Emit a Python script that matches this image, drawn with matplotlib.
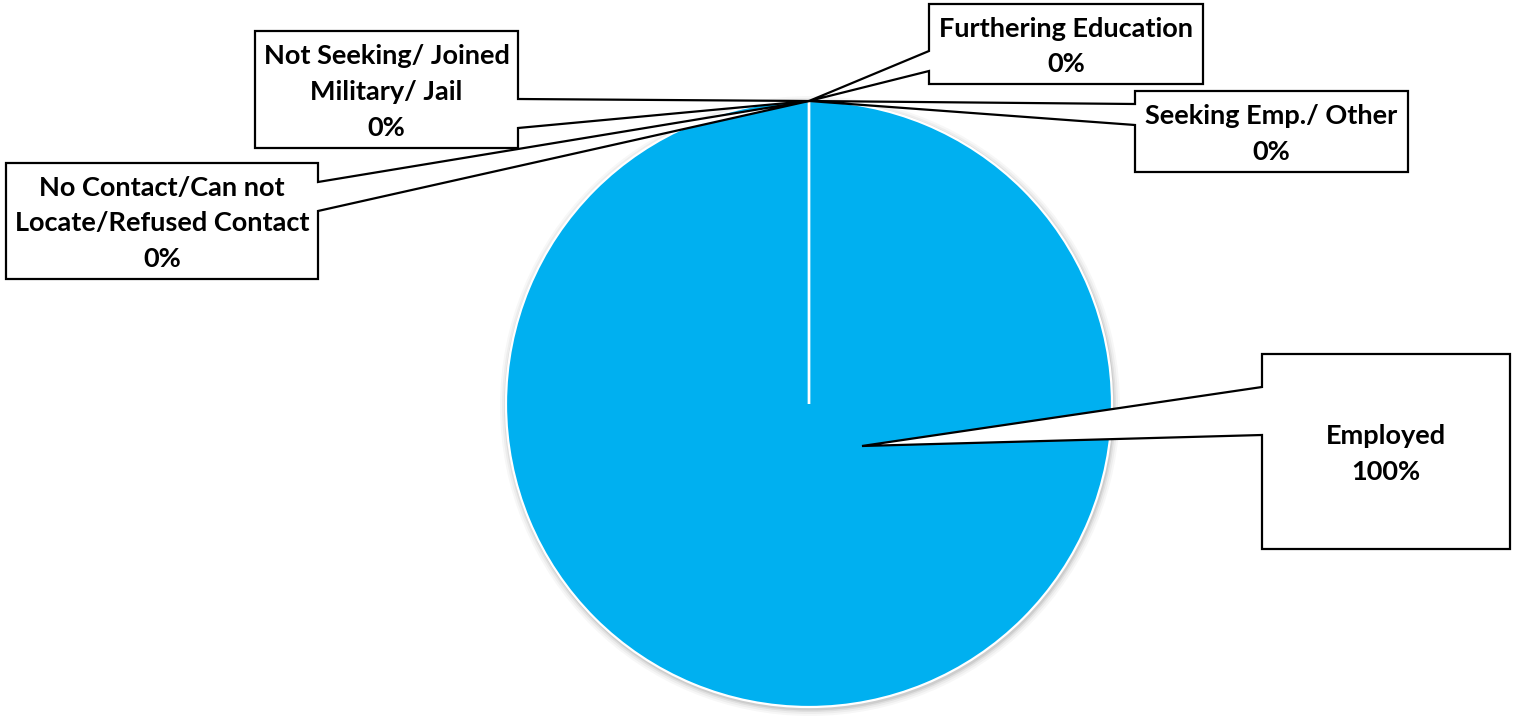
#!/usr/bin/env python3
"""Pie chart of placement outcomes with Excel-style callout labels."""

import math

import matplotlib

matplotlib.use("Agg")
import matplotlib.pyplot as plt
from matplotlib.patches import Circle, Polygon

W, H = 1521, 719

categories = [
    "Employed",
    "Furthering Education",
    "Seeking Emp./ Other",
    "No Contact/Can not\nLocate/Refused Contact",
    "Not Seeking/ Joined\nMilitary/ Jail",
]
values = [100, 0, 0, 0, 0]

# layout in image pixels (origin top-left)
PIE_CENTER = (809, 404)
PIE_RADIUS = 303
FULL_ANCHOR = (53, 42)  # offset of the 100% slice's label anchor from centre
# left, top, right, bottom, side of the leader, leader base (y1, y2)
callouts = [
    (1262, 354, 1510, 549, "left", (387, 435)),
    (929, 4, 1203, 84, "left", (51, 71)),
    (1135, 91, 1408, 172, "left", (104, 125)),
    (6, 163, 318, 279, "right", (182, 211)),
    (255, 31, 518, 148, "right", (99, 128)),
]

BLUE = "#00B0F0"


def Y(y):
    return H - y


def callout_points(box, anchor):
    l, t, r, b, side, (ya, yb) = box
    ax_, ay = anchor
    if side == "right":
        pts = [(l, t), (r, t), (r, ya), (ax_, ay), (r, yb), (r, b), (l, b)]
    else:
        pts = [(l, t), (r, t), (r, b), (l, b), (l, yb), (ax_, ay), (l, ya)]
    return [(x, Y(y)) for x, y in pts]


fig = plt.figure(figsize=(W / 100, H / 100), dpi=100)
ax = fig.add_axes([0, 0, 1, 1])

cx, cy = PIE_CENTER[0], Y(PIE_CENTER[1])

# soft shadow behind the pie
for k, a in [(7, 0.03), (5, 0.04), (3, 0.06), (1.5, 0.08)]:
    ax.add_patch(Circle((cx + 1, cy - 2), PIE_RADIUS + k, color="black", alpha=a, lw=0, zorder=0))

wedges, _ = ax.pie(
    values,
    colors=[BLUE] * len(values),
    startangle=90,
    counterclock=False,
    center=(cx, cy),
    radius=PIE_RADIUS,
    wedgeprops=dict(edgecolor="white", linewidth=1.6),
)

total = sum(values)
for wedge, name, v, box in zip(wedges, categories, values, callouts):
    span = abs(wedge.theta2 - wedge.theta1)
    if span >= 359:
        anchor = (PIE_CENTER[0] + FULL_ANCHOR[0], PIE_CENTER[1] + FULL_ANCHOR[1])
    else:
        mid = math.radians((wedge.theta1 + wedge.theta2) / 2)
        anchor = (PIE_CENTER[0] + PIE_RADIUS * math.cos(mid), PIE_CENTER[1] - PIE_RADIUS * math.sin(mid))
    poly = Polygon(callout_points(box, anchor), closed=True, facecolor="white",
                   edgecolor="black", linewidth=1.6, joinstyle="miter", zorder=3)
    ax.add_patch(poly)
    l, t, r, b = box[:4]
    ax.text((l + r) / 2, Y((t + b) / 2 + 2.5), f"{name}\n{v / total:.0%}", ha="center", va="center",
            fontsize=19.5, fontweight="bold", linespacing=1.58,
            family=["Lato", "DejaVu Sans"], zorder=4)

ax.set_xlim(0, W)
ax.set_ylim(0, H)
ax.set_aspect("equal")
ax.axis("off")

fig.savefig("out.png", dpi=100, facecolor="white")
